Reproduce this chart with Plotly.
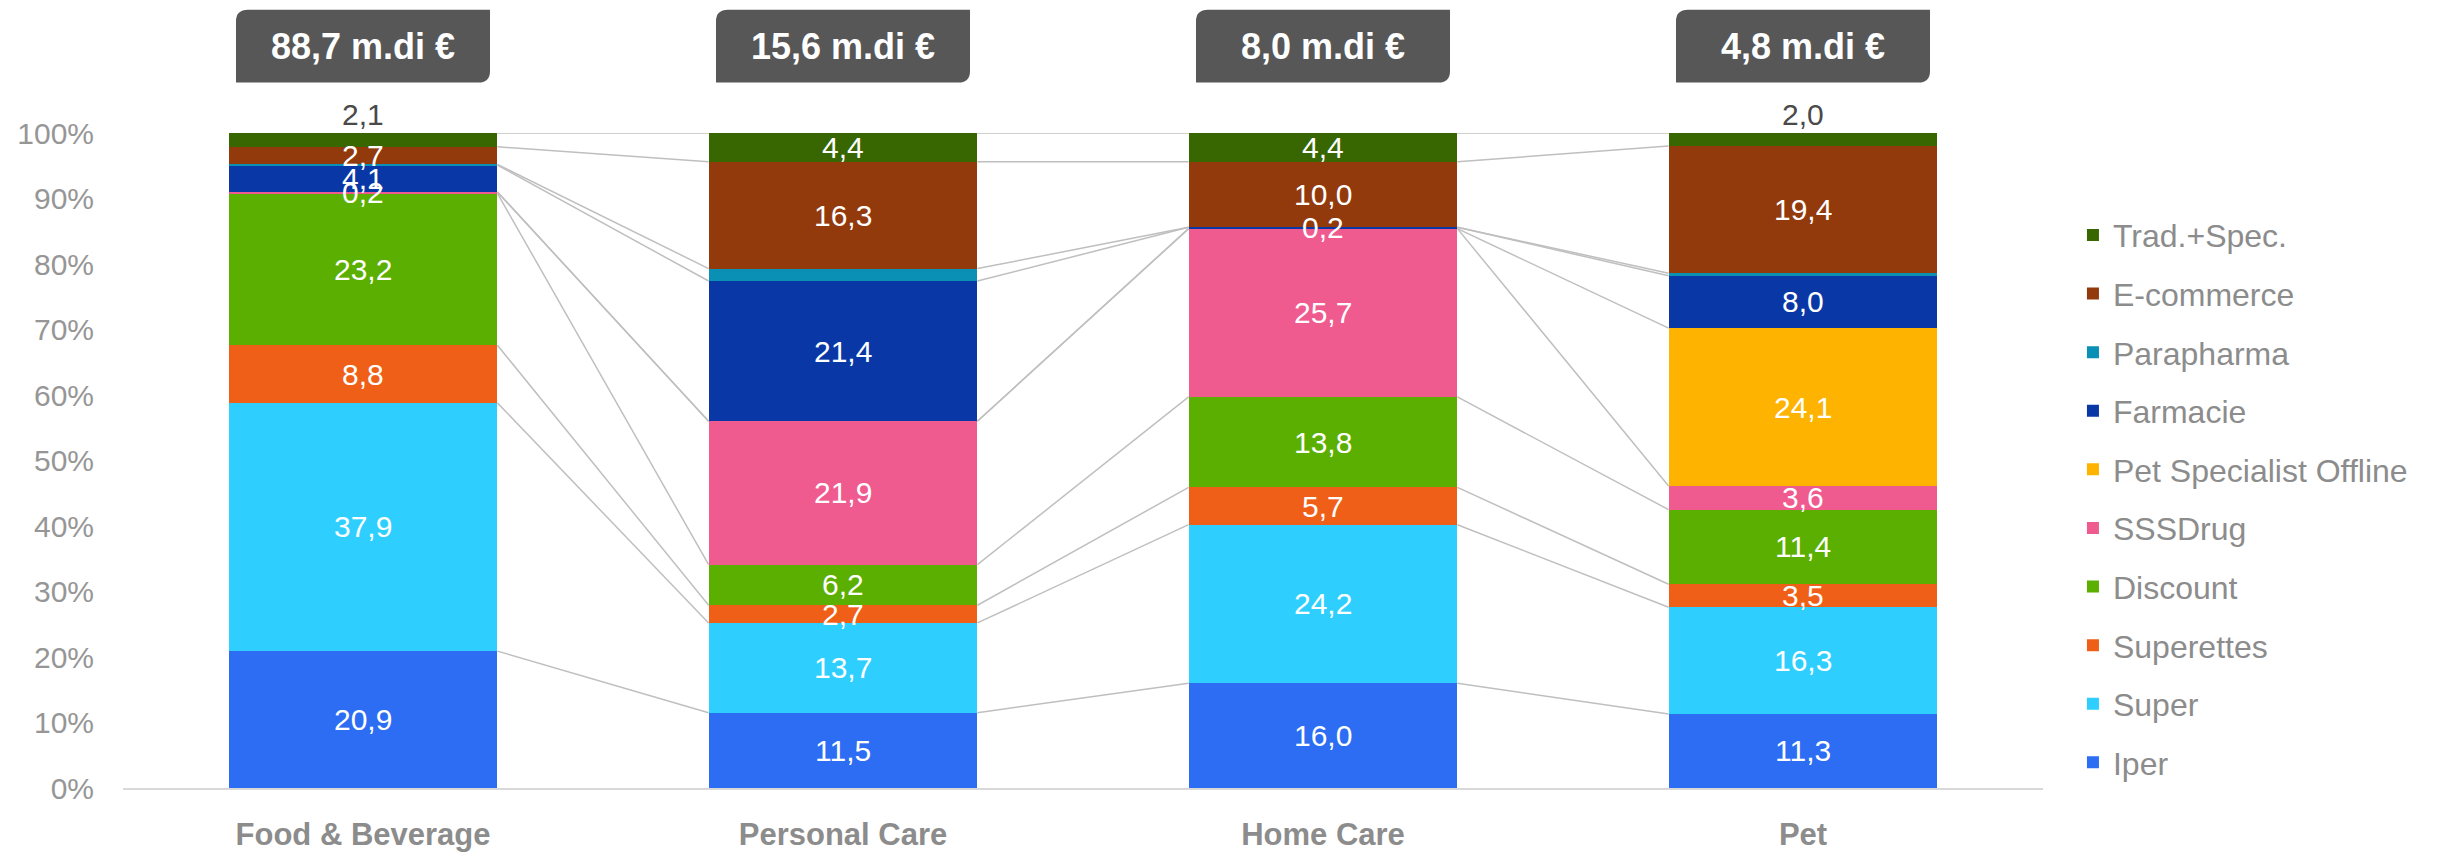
import plotly.graph_objects as go

# Channel share (%) by category, stacked bottom -> top
categories = ["Food & Beverage", "Personal Care", "Home Care", "Pet"]
market_size = ["88,7 m.di €", "15,6 m.di €", "8,0 m.di €", "4,8 m.di €"]

iper = [20.9, 11.5, 16.0, 11.3]
super_ = [37.9, 13.7, 24.2, 16.3]
superettes = [8.8, 2.7, 5.7, 3.5]
discount = [23.2, 6.2, 13.8, 11.4]
sssdrug = [0.2, 21.9, 25.7, 3.6]
pet_specialist = [0.0, 0.0, 0.0, 24.1]
farmacie = [4.1, 21.4, 0.2, 8.0]
parapharma = [0.1, 1.9, 0.0, 0.4]
ecommerce = [2.7, 16.3, 10.0, 19.4]
trad_spec = [2.1, 4.4, 4.4, 2.0]

# label placement: Parapharma labels hidden, Trad.+Spec. label above the bar where flagged
parapharma_labels = [False, False, False, False]
trad_label_above = [True, False, False, True]

y_ticks = list(range(0, 101, 10))
y_tick_text = [f"{t}%" for t in y_ticks]

series = [
    ("Iper", iper, "#2C6DF4"),
    ("Super", super_, "#2ECFFF"),
    ("Superettes", superettes, "#EF5F18"),
    ("Discount", discount, "#5BAF00"),
    ("SSSDrug", sssdrug, "#EF5A8F"),
    ("Pet Specialist Offline", pet_specialist, "#FDB300"),
    ("Farmacie", farmacie, "#0938A6"),
    ("Parapharma", parapharma, "#0A8FB5"),
    ("E-commerce", ecommerce, "#933A0D"),
    ("Trad.+Spec.", trad_spec, "#386600"),
]

BAR_W = 0.56
FONT = "Arial, Liberation Sans, sans-serif"
x_idx = list(range(len(categories)))


def fmt(v):
    return f"{v:.1f}".replace(".", ",")


fig = go.Figure()

# series lines joining the top of each segment across neighbouring bars
cum = [0.0] * len(categories)
lx, ly = [], []
labels = []  # (x, y_mid, text, y_top, above)
for name, vals, color in series:
    base = cum
    cum = [c + v for c, v in zip(cum, vals)]
    for i in range(len(categories) - 1):
        lx += [i + BAR_W / 2, i + 1 - BAR_W / 2, None]
        ly += [cum[i], cum[i + 1], None]
    for i, v in enumerate(vals):
        if v <= 0:
            continue
        if name == "Parapharma" and not parapharma_labels[i]:
            continue
        above = name == "Trad.+Spec." and trad_label_above[i]
        labels.append((i, base[i] + v / 2, fmt(v), cum[i], above))

fig.add_trace(go.Scatter(x=lx, y=ly, mode="lines",
                         line=dict(color="#BFBFBF", width=1.5),
                         showlegend=False, hoverinfo="skip"))

n_series = len(series)
for k, (name, vals, color) in enumerate(series):
    fig.add_trace(go.Bar(
        x=x_idx, y=vals, name=name, width=BAR_W,
        marker=dict(color=color, line=dict(width=0)),
        legendgroup=name, legendrank=n_series - k,
    ))

# data labels: centred in the segment, or just above the column top
for i, y_mid, text, y_end, above in labels:
    if above:
        fig.add_annotation(x=i, y=y_end, xref="x", yref="y", text=text,
                           showarrow=False, yanchor="bottom", yshift=0,
                           font=dict(family=FONT, size=30, color="#4A4A4A"))
    else:
        fig.add_annotation(x=i, y=y_mid, xref="x", yref="y", text=text,
                           showarrow=False, yanchor="middle",
                           font=dict(family=FONT, size=30, color="white"))

# market size tags above each column
y_top, y_bot = 1.1881, 1.0770
half_w = 0.2646
rx, ry = 0.025, 0.0178
for i, label in enumerate(market_size):
    x0, x1 = i - half_w, i + half_w
    path = (f"M {x0 + rx},{y_top} L {x1},{y_top} L {x1},{y_bot + ry} "
            f"Q {x1},{y_bot} {x1 - rx},{y_bot} L {x0},{y_bot} L {x0},{y_top - ry} "
            f"Q {x0},{y_top} {x0 + rx},{y_top} Z")
    fig.add_shape(type="path", path=path, xref="x", yref="paper",
                  fillcolor="#575757", line=dict(width=0), layer="above")
    fig.add_annotation(x=i, y=(y_top + y_bot) / 2, xref="x", yref="paper",
                       text=f"<b>{label}</b>", showarrow=False,
                       font=dict(family=FONT, size=36, color="white"),
                       xanchor="center", yanchor="middle")

fig.update_layout(
    width=2437, height=864,
    margin=dict(l=123, r=394, t=133, b=56),
    paper_bgcolor="white", plot_bgcolor="white",
    barmode="stack", bargap=0.44,
    font=dict(family=FONT, color="#8C8C8C"),
    legend=dict(
        traceorder="grouped", tracegroupgap=14,
        x=1.0156, y=0.886, xanchor="left", yanchor="top",
        font=dict(family=FONT, size=32, color="#8C8C8C"),
        bgcolor="rgba(0,0,0,0)",
    ),
    xaxis=dict(
        tickvals=x_idx, ticktext=[f"<b>{c}</b>" for c in categories],
        range=[-0.5, len(categories) - 0.5],
        showline=True, linecolor="#D9D9D9", linewidth=2,
        ticks="outside", ticklen=18, tickcolor="rgba(0,0,0,0)",
        tickfont=dict(family=FONT, size=31, color="#8C8C8C"),
        showgrid=False, zeroline=False,
    ),
    yaxis=dict(
        range=[0, 100], tickmode="array", tickvals=y_ticks, ticktext=y_tick_text,
        showgrid=False, zeroline=False, showline=False,
        ticks="outside", ticklen=22, tickcolor="rgba(0,0,0,0)",
        tickfont=dict(family=FONT, size=30, color="#969696"),
    ),
)

fig.write_html("out.html")
